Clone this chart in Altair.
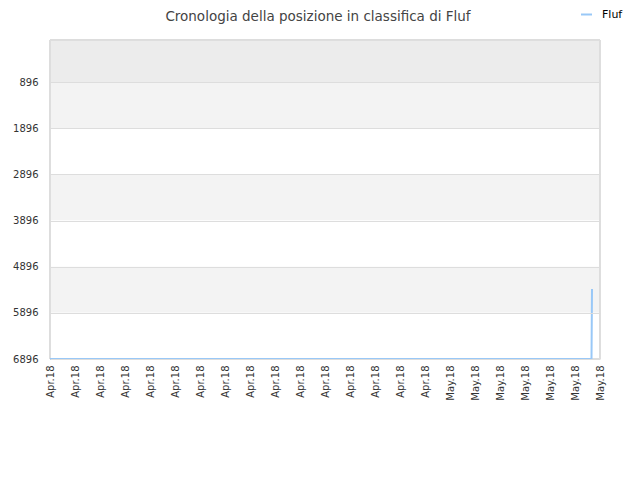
import altair as alt
import pandas as pd

# data
x_labels = ["Apr.18"] * 16 + ["May.18"] * 7
y_ticks = [896, 1896, 2896, 3896, 4896, 5896, 6896]
series_name = "Fluf"
title_text = "Cronologia della posizione in classifica di Fluf"
pos_x = [0, 21.66, 21.68]
rank = [6896, 6896, 5380]

y_dom = [-14, 6896]

df = pd.DataFrame({"x": pos_x, "rank": rank, "serie": [series_name] * len(pos_x)})

band_lo = [y_dom[0]] + y_ticks[:-1]
band_hi = y_ticks
band_col = ["#ececec"] + ["#f3f3f3" if i % 2 == 0 else "#ffffff" for i in range(len(y_ticks) - 1)]
bands = pd.DataFrame({"lo": band_lo, "hi": band_hi, "c": band_col})

label_expr = "[" + ",".join("'" + l + "'" for l in x_labels) + "][datum.value]"

yscale = alt.Scale(domain=y_dom, reverse=True, nice=False, zero=False)
xscale = alt.Scale(domain=[0, len(x_labels) - 1], nice=False, zero=False)

band_layer = alt.Chart(bands).mark_rect().encode(
    y=alt.Y("lo:Q", scale=yscale),
    y2="hi:Q",
    x=alt.value(0),
    x2=alt.value(550),
    fill=alt.Fill("c:N", scale=None, legend=None),
)

frame = alt.Chart(bands).mark_rect(filled=False, stroke="#dddddd", strokeWidth=1).encode(
    x=alt.value(0), x2=alt.value(550), y=alt.value(0), y2=alt.value(319)
)

line = alt.Chart(df).mark_line(strokeWidth=2, clip=False).encode(
    x=alt.X(
        "x:Q",
        scale=xscale,
        axis=alt.Axis(
            values=list(range(len(x_labels))),
            labelExpr=label_expr,
            labelAngle=-90,
            labelAlign="right",
            labelBaseline="middle",
            labelFont="DejaVu Sans",
            labelFontSize=10,
            labelColor="#333333",
            ticks=False,
            grid=False,
            domain=False,
            title=None,
            labelPadding=6,
        ),
    ),
    y=alt.Y(
        "rank:Q",
        scale=yscale,
        axis=alt.Axis(
            values=y_ticks,
            format="d",
            labelFont="DejaVu Sans",
            labelFontSize=10,
            labelColor="#333333",
            ticks=False,
            grid=True,
            gridColor="#dddddd",
            domain=False,
            title=None,
            labelPadding=12,
            zindex=1,
        ),
    ),
    color=alt.Color(
        "serie:N",
        scale=alt.Scale(range=["#99c8f7"]),
        legend=alt.Legend(
            title=None,
            orient="none",
            legendX=530,
            legendY=-32,
            padding=0,
            symbolType="stroke",
            symbolStrokeWidth=2,
            symbolSize=120,
            labelOffset=9,
            labelFont="DejaVu Sans",
            labelFontSize=11,
            labelColor="#000000",
        ),
    ),
)

title = alt.Chart(pd.DataFrame({"t": [title_text]})).mark_text(
    font="DejaVu Sans", fontSize=13.5, color="#444444", align="center", baseline="top"
).encode(text="t:N", x=alt.value(268), y=alt.value(-30))

chart = (
    alt.layer(band_layer, frame, line, title)
    .resolve_scale(color="independent")
    .properties(
        width=550,
        height=319,
        padding={"left": 42, "top": 32, "right": 32, "bottom": 112},
        autosize=alt.AutoSizeParams(type="none"),
    )
    .configure_view(stroke=None)
)

chart.save("out.html", embed_options={"renderer": "svg", "actions": False})
